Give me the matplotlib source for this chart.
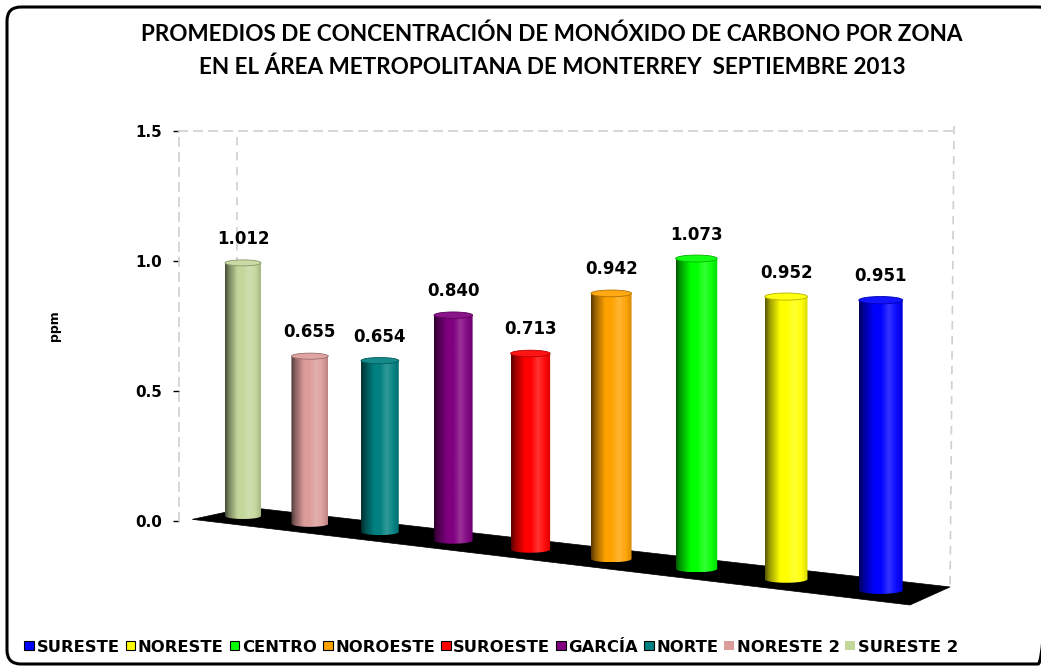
"""Promedios de CO por zona, AMM septiembre 2013 - pseudo 3D cylinder bars."""
import numpy as np
import matplotlib
matplotlib.use("Agg")
import matplotlib.pyplot as plt
from matplotlib.patches import Polygon, Ellipse, FancyBboxPatch, Patch
from matplotlib.colors import to_rgb

# data, left to right as drawn
zonas = ["SURESTE 2", "NORESTE 2", "NORTE", "GARCÍA", "SUROESTE",
         "NOROESTE", "CENTRO", "NORESTE", "SURESTE"]
promedios = [1.012, 0.655, 0.654, 0.840, 0.713, 0.942, 1.073, 0.952, 0.951]
colores = ["#c4d79b", "#dc9c9a", "#008080", "#800080", "#ff0000",
           "#ffa200", "#00ff00", "#ffff00", "#0000ff"]
y_ticks = [0.0, 0.5, 1.0, 1.5]
titulo = ["PROMEDIOS DE CONCENTRACIÓN DE MONÓXIDO DE CARBONO POR ZONA",
          "EN EL ÁREA METROPOLITANA DE MONTERREY  SEPTIEMBRE 2013"]

W, H = 1041, 671
BOLD = ["DejaVu Sans"]

# perspective layout (pixels, y down)
VX, VY = 520.0, 200.0
DEPTH_K = 0.0225
X0, DX = -277.0, 71.6
Y0, DY = 316.0, 0.5
BAR_W = 36.0
ELL_H = 6.0
S0 = 0.962
LABEL_GAP = 24


def project(t):
    p = 1.0 / (1.0 - DEPTH_K * t)
    return VX + (X0 + DX * t) * p, VY + (Y0 + DY * t) * p, p


def shade_strip(rgb, n=64):
    u = np.linspace(0, 1, n)
    dark = np.interp(u, [0, 0.1, 0.35, 0.85, 1], [0.35, 0.6, 1.0, 1.0, 0.85])
    light = np.interp(u, [0, 0.5, 0.68, 0.85, 1], [0, 0, 0.2, 0.05, 0])
    c = np.array(rgb)[None, :] * dark[:, None]
    c = c + (1 - c) * light[:, None]
    return c[None, :, :]


fig = plt.figure(figsize=(W / 100, H / 100), dpi=100)
fig.patch.set_facecolor("white")

# value axis = back wall
ax = fig.add_axes([179 / W, (H - 521) / H, 775 / W, 390 / H])
ax.set_facecolor("none")
ax.set_ylim(0, 1.5)
ax.set_xlim(0, 1)
ax.set_yticks(y_ticks)
ax.set_yticklabels([f"{v:.1f}" for v in y_ticks], fontweight="bold",
                   fontsize=11, family=BOLD)
ax.set_xticks([])
ax.tick_params(axis="y", length=4.5, width=1, color="black", pad=8)
for s in ["left", "top", "right"]:
    ax.spines[s].set_color("#cfcfcf")
    ax.spines[s].set_linewidth(1.2)
    ax.spines[s].set_linestyle((0, (5, 4)))
ax.spines["bottom"].set_visible(False)
ax.spines["right"].set_visible(False)
ax.set_ylabel("ppm", fontsize=9, fontweight="bold", family=BOLD)
ax.yaxis.set_label_coords(-0.152, 0.5)

unit_px = ax.transData.transform((0, 1))[1] - ax.transData.transform((0, 0))[1]

# scene in pixel coordinates
sc = fig.add_axes([0, 0, 1, 1])
sc.set_facecolor("none")
sc.axis("off")

# floor
cl_x, cl_y, pl = project(-0.35)
cr_x, cr_y, pr = project(8.5)
hd_l = np.array([-28.2, 6.05]) * pl
hd_r = np.array([-16.2, 7.3]) * pr
fl = (cl_x + hd_l[0], cl_y + hd_l[1])
bl = (cl_x - hd_l[0], cl_y - hd_l[1])
fr = (cr_x + hd_r[0], cr_y + hd_r[1])
br = (cr_x - hd_r[0], cr_y - hd_r[1])
sc.add_patch(Polygon([fl, bl, br, fr], closed=True, facecolor="black",
                     edgecolor="black", lw=0.5, zorder=2))

# back wall dashed edges
top_px = H - ax.transData.transform((0, 1.5))[1]
right_px = ax.transData.transform((1, 0))[0]
sc.plot([right_px, br[0]], [top_px - 5, br[1]], color="#cfcfcf", lw=1.2,
        ls=(0, (5, 4)), zorder=1)
sc.plot([237, 237], [top_px + 6, bl[1]], color="#cfcfcf", lw=1.2,
        ls=(0, (5, 4)), zorder=1)

# cylinders
for i, (v, col) in enumerate(zip(promedios, colores)):
    cx, cy, p = project(i)
    w = BAR_W * p
    eh = ELL_H * p
    h = v * unit_px * S0 * p
    x0, x1, yt = cx - w / 2, cx + w / 2, cy - h
    th = np.linspace(np.pi, 0, 40)
    arc = np.column_stack([cx + w / 2 * np.cos(th), cy + eh / 2 * np.sin(th)])
    verts = np.vstack([[[x0, yt], [x0, cy]], arc, [[x1, cy], [x1, yt]]])
    body = Polygon(verts, closed=True, facecolor="none", edgecolor="none",
                   zorder=3)
    sc.add_patch(body)
    rgb = to_rgb(col)
    im = sc.imshow(shade_strip(rgb), extent=(x0, x1, cy + eh / 2, yt),
                   aspect="auto", interpolation="bilinear", zorder=3)
    im.set_clip_path(body)
    top_c = np.array(rgb) + (1 - np.array(rgb)) * 0.08
    rim = np.array(rgb) * 0.7
    sc.add_patch(Ellipse((cx, yt), w, eh, facecolor=top_c, edgecolor=rim,
                         lw=0.6, zorder=4))
    sc.text(cx, yt - LABEL_GAP, f"{v:.3f}", ha="center", va="center",
            fontsize=12, fontweight="bold", family=BOLD, zorder=10)

# outer rounded frame
sc.add_patch(FancyBboxPatch((7, 7), 1045, 657,
                            boxstyle="round,pad=0,rounding_size=14",
                            facecolor="none", edgecolor="black", lw=2.2,
                            clip_on=False, zorder=20))

sc.set_xlim(0, W)
sc.set_ylim(H, 0)

# title
for k, line in enumerate(titulo):
    fig.text(552 / W, 1 - (34 + 33 * k) / H, line, ha="center", va="center",
             fontsize=16.2, fontweight="bold", family=["Lato", "DejaVu Sans"])

# legend, reversed order
handles = []
for z, col in zip(zonas[::-1], colores[::-1]):
    edge = "none" if z.endswith("2") else "black"
    handles.append(Patch(facecolor=col, edgecolor=edge, linewidth=0.8, label=z))
fig.legend(handles=handles, loc="center", bbox_to_anchor=(491 / W, 1 - 647 / H),
           ncol=9, frameon=False, borderpad=0, handlelength=0.6,
           handleheight=0.5, handletextpad=0.15, columnspacing=0.36,
           prop={"family": BOLD, "weight": "bold", "size": 11.8})

fig.savefig("out.png", dpi=100, facecolor="white")
